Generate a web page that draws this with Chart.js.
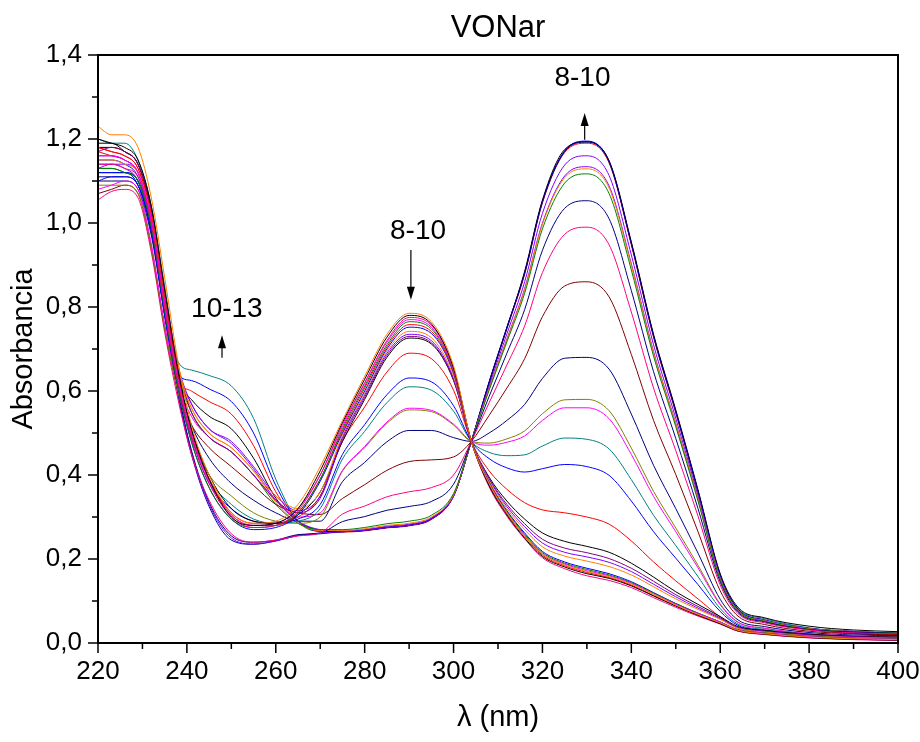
<!DOCTYPE html>
<html lang="es">
<head>
    <meta charset="UTF-8">
    <title>VONar</title>
    <script src="https://cdn.jsdelivr.net/npm/chart.js"></script>
    <style>
        body { margin: 0; background: #ffffff; }
        .chart-box { width: 920px; height: 742px; position: relative; }
    </style>
</head>
<body>
<div class="chart-box">
    <canvas id="spectraChart"></canvas>
</div>

<script>
    // Longitudes de onda (nm)
    const wavelengths = [220, 223, 226, 229, 232, 235, 238, 241, 245, 250, 255, 260, 265, 270,
        275, 280, 285, 290, 295, 300, 304, 308, 312, 316, 320, 325, 330, 335, 340, 345, 350,
        355, 360, 364, 370, 380, 390, 400];

    // Espectros iniciales (banda a 290 nm)
    const specA1 = [1.23,1.21,1.21,1.18,1.06,0.87,0.67,0.52,0.40,0.31,0.285,0.29,0.33,0.42, .53,.635,.735,.785,.765,.66,.48,.38,.31,.255,.212,.186,.17,.158,.14,.116,.09,.068,.048,.03,.022,.014,.01,.008];
    const specA2 = [1.20,1.19,1.18,1.15,1.04,0.84,0.65,0.51,0.39,0.30,0.28,0.285,0.32,0.41, .525,.628,.728,.78,.76,.655,.48,.375,.305,.25,.206,.181,.165,.154,.136,.112,.088,.066,.046,.029,.021,.013,.009,.007];
    const specA3 = [1.14,1.14,1.13,1.11,1.00,0.80,0.62,0.49,0.38,0.30,0.275,0.28,0.315,0.40, .52,.62,.72,.775,.757,.653,.48,.372,.302,.248,.203,.177,.16,.149,.132,.108,.085,.064,.045,.028,.02,.012,.008,.006];
    const specA4 = [1.16,1.16,1.15,1.12,1.01,0.81,0.63,0.50,0.385,0.305,0.28,0.285,0.32,0.40, .515,.618,.716,.77,.752,.65,.48,.38,.31,.256,.212,.188,.172,.16,.142,.117,.092,.07,.05,.031,.023,.015,.011,.009];
    const specA5 = [1.13,1.13,1.12,1.10,0.99,0.79,0.61,0.48,0.37,0.295,0.275,0.28,0.31,0.39, .51,.612,.71,.765,.748,.648,.48,.382,.313,.259,.215,.19,.175,.162,.144,.119,.094,.071,.05,.032,.024,.016,.012,.01];
    const specA6 = [1.18,1.17,1.16,1.13,1.02,0.82,0.64,0.50,0.39,0.305,0.28,0.28,0.31,0.39, .505,.607,.705,.758,.742,.645,.48,.378,.308,.254,.209,.184,.168,.156,.138,.113,.089,.067,.047,.029,.021,.013,.009,.007];
    const specA7 = [1.12,1.12,1.12,1.10,0.99,0.79,0.61,0.48,0.37,0.295,0.27,0.275,0.305,0.385, .50,.60,.70,.752,.737,.642,.48,.383,.315,.262,.218,.193,.178,.165,.146,.12,.094,.071,.05,.031,.023,.015,.011,.009];
    const specE1 = [1.15,1.15,1.14,1.12,1.02,0.83,0.66,0.56,0.50,0.465,0.41,0.35,0.32,0.36, .495,.595,.695,.742,.727,.635,.48,.386,.32,.27,.229,.207,.195,.182,.162,.134,.105,.08,.056,.035,.026,.017,.013,.011];
    const specE2 = [1.13,1.14,1.14,1.12,1.01,0.82,0.65,0.57,0.51,0.48,0.42,0.35,0.315,0.35, .49,.59,.69,.735,.72,.63,.48,.39,.325,.277,.238,.216,.205,.192,.17,.14,.11,.083,.058,.036,.027,.018,.014,.012];
    const specE3 = [1.17,1.18,1.17,1.14,1.03,0.84,0.66,0.55,0.49,0.455,0.40,0.34,0.31,0.345, .485,.585,.685,.73,.715,.627,.48,.392,.33,.284,.247,.226,.215,.201,.178,.147,.115,.087,.06,.037,.028,.019,.015,.013];
    const specE4 = [1.19,1.19,1.17,1.14,1.03,0.83,0.64,0.51,0.40,0.32,0.29,0.285,0.305,0.36, .48,.58,.68,.726,.712,.625,.48,.395,.338,.295,.262,.242,.23,.216,.19,.157,.122,.092,.063,.039,.03,.021,.016,.014];

    // Espectros de la etapa 8-10
    const specT2 = [1.18,1.17,1.16,1.13,1.02,0.82,0.63,0.50,0.39,0.31,0.285,0.285,0.30,0.35, .48,.562,.645,.69,.677,.602,.48,.41,.366,.334,.317,.31,.30,.283,.243,.193,.148,.105,.062,.036,.026,.017,.012,.01];
    const specT3 = [1.10,1.11,1.11,1.09,0.98,0.78,0.61,0.49,0.38,0.32,0.29,0.285,0.295,0.33, .449,.52,.591,.631,.622,.565,.48,.439,.417,.407,.415,.425,.42,.399,.338,.265,.202,.139,.075,.042,.03,.019,.014,.012];
    const specT4 = [1.12,1.12,1.12,1.10,0.99,0.80,0.62,0.50,0.39,0.33,0.295,0.285,0.29,0.32, .438,.504,.572,.61,.602,.552,.48,.454,.446,.448,.469,.488,.485,.462,.389,.304,.232,.158,.082,.045,.032,.02,.016,.013];
    const specT5 = [1.08,1.09,1.10,1.08,0.95,0.76,0.62,0.54,0.49,0.455,0.40,0.34,0.30,0.31, .411,.468,.526,.559,.554,.521,.48,.471,.478,.493,.53,.56,.56,.534,.449,.349,.265,.179,.091,.049,.035,.022,.017,.014];
    const specT6 = [1.09,1.09,1.09,1.07,0.94,0.75,0.60,0.49,0.40,0.35,0.31,0.29,0.285,0.30, .409,.465,.523,.555,.551,.519,.48,.476,.486,.505,.546,.579,.58,.553,.464,.361,.274,.185,.093,.05,.035,.022,.017,.015];
    const specT7 = [1.11,1.11,1.11,1.09,0.98,0.79,0.62,0.52,0.44,0.38,0.34,0.31,0.29,0.29, .384,.43,.479,.506,.506,.489,.48,.50,.53,.568,.63,.678,.68,.652,.545,.423,.32,.214,.104,.055,.039,.025,.019,.017];
    const specT8 = [1.07,1.08,1.09,1.07,0.94,0.75,0.60,0.52,0.465,0.42,0.375,0.33,0.31,0.306, .344,.377,.411,.432,.436,.443,.48,.542,.607,.677,.777,.85,.86,.824,.687,.53,.401,.265,.124,.064,.044,.028,.022,.019];
    const specT9 = [1.055,1.075,1.08,1.06,0.93,0.74,0.58,0.45,0.34,0.26,0.24,0.245,0.255,0.262, .307,.326,.348,.36,.37,.40,.48,.572,.662,.755,.882,.973,.99,.948,.788,.607,.458,.302,.138,.07,.048,.031,.024,.022];
    const specT10 = [1.10,1.10,1.10,1.08,0.97,0.78,0.60,0.46,0.335,0.255,0.24,0.245,0.258,0.262, .289,.301,.316,.325,.337,.378,.48,.587,.69,.794,.935,1.035,1.053,1.01,.839,.646,.487,.32,.145,.073,.05,.032,.026,.023];
    const specT11 = [1.13,1.13,1.12,1.10,0.99,0.80,0.64,0.55,0.49,0.455,0.40,0.33,0.285,0.27, .27,.275,.284,.29,.304,.356,.48,.602,.717,.833,.986,1.095,1.117,1.07,.888,.683,.515,.338,.151,.076,.052,.033,.027,.024];
    const specT12 = [1.12,1.12,1.12,1.10,0.99,0.80,0.645,0.56,0.50,0.465,0.41,0.335,0.285,0.268, .268,.272,.28,.285,.30,.353,.48,.605,.722,.841,.997,1.108,1.129,1.083,.899,.691,.521,.342,.153,.077,.053,.034,.027,.024];
    const specT13 = [1.16,1.16,1.15,1.12,1.01,0.82,0.66,0.57,0.51,0.475,0.415,0.34,0.29,0.27, .267,.27,.278,.283,.298,.352,.48,.606,.724,.844,1.0,1.112,1.134,1.088,.903,.694,.523,.343,.153,.077,.053,.034,.027,.024];
    const specT14 = [1.14,1.14,1.13,1.10,0.99,0.79,0.60,0.455,0.33,0.25,0.236,0.243,0.256,0.262, .265,.268,.275,.28,.295,.35,.48,.612,.736,.86,1.023,1.138,1.16,1.113,.924,.71,.535,.351,.156,.078,.054,.034,.027,.024];

    // Espectros finales (etapa 10-13)
    const specB1 = [1.12,1.12,1.12,1.09,0.98,0.78,0.59,0.45,0.325,0.245,0.235,0.243,0.256,0.26, .265,.268,.275,.28,.295,.35,.48,.62,.75,.88,1.05,1.17,1.193,1.145,.95,.73,.55,.36,.16,.08,.055,.035,.028,.022];
    const specC0 = [1.18,1.18,1.17,1.14,1.03,0.83,0.63,0.58,0.54,0.51,0.44,0.345,0.29,0.268, .265,.268,.275,.28,.296,.352,.48,.62,.75,.885,1.055,1.175,1.193,1.148,.955,.735,.555,.365,.165,.085,.06,.04,.031,.027];
    const specC1 = [1.17,1.16,1.15,1.12,1.01,0.81,0.63,0.60,0.575,0.545,0.47,0.36,0.29,0.266, .264,.267,.274,.279,.294,.349,.48,.618,.748,.878,1.048,1.168,1.19,1.143,.948,.728,.548,.358,.158,.078,.052,.032,.024,.02];
    const specC2 = [1.15,1.15,1.14,1.11,1.00,0.81,0.64,0.625,0.605,0.575,0.50,0.375,0.29,0.266, .265,.268,.275,.28,.295,.35,.48,.622,.752,.882,1.052,1.172,1.195,1.147,.952,.732,.552,.362,.162,.08,.054,.033,.022,.018];
    const specC3 = [1.20,1.19,1.19,1.15,1.04,0.85,0.67,0.65,0.637,0.612,0.535,0.39,0.29,0.266, .266,.269,.276,.281,.296,.351,.48,.621,.751,.881,1.051,1.171,1.194,1.146,.951,.731,.551,.361,.161,.082,.058,.036,.026,.022];

    // Marcas de los ejes
    const xTicks = [220, 240, 260, 280, 300, 320, 340, 360, 380, 400];
    const xMinorTicks = [230, 250, 270, 290, 310, 330, 350, 370, 390];
    const yTicks = [0, 0.2, 0.4, 0.6, 0.8, 1.0, 1.2, 1.4];
    const yMinorTicks = [0.1, 0.3, 0.5, 0.7, 0.9, 1.1, 1.3];

    // Colores tipo Origin
    const series = [
        [specA1, '#ff8000'], [specA2, '#000000'], [specA3, '#ff0080'], [specA4, '#ff00ff'],
        [specA5, '#008000'], [specA6, '#ff0000'], [specA7, '#0000ff'],
        [specE1, '#ff8000'], [specE2, '#8000ff'], [specE3, '#800080'], [specE4, '#000000'],
        [specT2, '#ff0000'], [specT3, '#0000ff'], [specT4, '#008080'], [specT5, '#ff00ff'],
        [specT6, '#808000'], [specT7, '#000080'], [specT8, '#800000'], [specT9, '#ff0080'],
        [specT10, '#000080'], [specT11, '#008000'], [specT12, '#ff8000'], [specT13, '#8000ff'],
        [specT14, '#8000ff'],
        [specB1, '#0000a0'], [specC0, '#000000'], [specC1, '#ff0000'], [specC2, '#0000ff'], [specC3, '#008080']
    ];

    // Flechas y rótulos (coordenadas de datos)
    const notes = [
        { text: '8-10', tx: 329, ty: 1.345, ax: 329.5, from: 1.198, to: 1.262 },
        { text: '8-10', tx: 292, ty: 0.981, ax: 290.4, from: 0.936, to: 0.817 },
        { text: '10-13', tx: 249, ty: 0.795, ax: 247.9, from: 0.679, to: 0.733 }
    ];

    const FONT = '"Liberation Sans Narrow", "Arial Narrow", "Liberation Sans", Arial, sans-serif';
    Chart.defaults.font.family = FONT;
    Chart.defaults.color = '#000000';

    const frameAndNotes = {
        id: 'frameAndNotes',
        afterDraw(chart) {
            const { ctx, chartArea: a, scales: { x, y } } = chart;
            ctx.save();
            ctx.strokeStyle = '#000000';
            ctx.lineWidth = 2;
            ctx.strokeRect(a.left, a.top, a.right - a.left, a.bottom - a.top);

            // ticks hacia afuera
            ctx.lineWidth = 1.5;
            ctx.beginPath();
            xTicks.forEach(v => { const p = x.getPixelForValue(v); ctx.moveTo(p, a.bottom); ctx.lineTo(p, a.bottom + 10); });
            xMinorTicks.forEach(v => { const p = x.getPixelForValue(v); ctx.moveTo(p, a.bottom); ctx.lineTo(p, a.bottom + 6); });
            yTicks.forEach(v => { const p = y.getPixelForValue(v); ctx.moveTo(a.left - 10, p); ctx.lineTo(a.left, p); });
            yMinorTicks.forEach(v => { const p = y.getPixelForValue(v); ctx.moveTo(a.left - 6, p); ctx.lineTo(a.left, p); });
            ctx.stroke();

            // título
            ctx.fillStyle = '#000000';
            ctx.textAlign = 'center';
            ctx.textBaseline = 'middle';
            ctx.font = '31px ' + FONT;
            ctx.fillText('VONar', (a.left + a.right) / 2, 28);

            // flechas
            notes.forEach(n => {
                ctx.font = '28px ' + FONT;
                ctx.fillText(n.text, x.getPixelForValue(n.tx), y.getPixelForValue(n.ty));
                const px = x.getPixelForValue(n.ax);
                const p0 = y.getPixelForValue(n.from);
                const p1 = y.getPixelForValue(n.to);
                const dir = p1 < p0 ? 1 : -1;
                ctx.lineWidth = 1.2;
                ctx.beginPath();
                ctx.moveTo(px, p0);
                ctx.lineTo(px, p1 + dir * 10);
                ctx.stroke();
                ctx.beginPath();
                ctx.moveTo(px, p1);
                ctx.lineTo(px - 4, p1 + dir * 13);
                ctx.lineTo(px + 4, p1 + dir * 13);
                ctx.closePath();
                ctx.fill();
            });
            ctx.restore();
        }
    };

    const datasets = series.map(([vals, color]) => ({
        data: wavelengths.map((w, i) => ({ x: w, y: vals[i] })),
        borderColor: color,
        borderWidth: 1,
        pointRadius: 0,
        fill: false,
        cubicInterpolationMode: 'monotone'
    }));

    new Chart(document.getElementById('spectraChart'), {
        type: 'line',
        data: { datasets },
        options: {
            responsive: true,
            maintainAspectRatio: false,
            animation: false,
            layout: { padding: { top: 55, right: 22, left: 0, bottom: 0 } },
            plugins: { legend: { display: false }, tooltip: { enabled: false }, title: { display: false } },
            scales: {
                x: {
                    type: 'linear',
                    min: 220,
                    max: 400,
                    afterBuildTicks: s => { s.ticks = xTicks.map(v => ({ value: v })); },
                    afterFit: s => { s.height = 99; s.paddingLeft = 0; s.paddingRight = 0; },
                    grid: { drawOnChartArea: false, drawTicks: false },
                    border: { display: false },
                    ticks: { padding: 13, font: { size: 26 }, maxRotation: 0 },
                    title: { display: true, text: 'λ (nm)', font: { size: 29 }, padding: { top: 0, bottom: 7 } }
                },
                y: {
                    min: 0,
                    max: 1.4,
                    afterBuildTicks: s => { s.ticks = yTicks.map(v => ({ value: v })); },
                    afterFit: s => { s.width = 98; s.paddingTop = 0; s.paddingBottom = 0; },
                    grid: { drawOnChartArea: false, drawTicks: false },
                    border: { display: false },
                    ticks: { padding: 16, font: { size: 26 }, callback: v => v.toFixed(1).replace('.', ',') },
                    title: { display: true, text: 'Absorbancia', font: { size: 29 }, padding: { top: 7, bottom: 0 } }
                }
            }
        },
        plugins: [frameAndNotes]
    });
</script>
</body>
</html>
